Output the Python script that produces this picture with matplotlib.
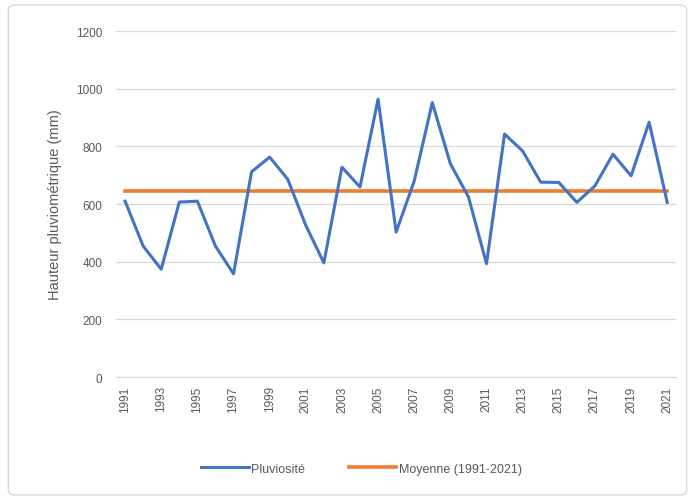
import matplotlib
matplotlib.use('Agg')
import matplotlib.pyplot as plt
from matplotlib.patches import FancyBboxPatch

plt.rcParams['font.family'] = ['Liberation Sans', 'DejaVu Sans']

# Data
years = list(range(1991, 2022))
pluviosite = [610, 454, 374, 607, 610, 454, 358, 712, 763, 686, 526, 396,
              728, 659, 964, 503, 680, 952, 740, 625, 393, 843, 784, 676,
              675, 606, 663, 773, 698, 884, 606]
moyenne = 645

blue = '#4472C4'
orange = '#ED7D31'
grey_txt = '#595959'

fig = plt.figure(figsize=(6.95, 5.02), dpi=100)
ax = fig.add_axes([0.167, 0.247, 0.806, 0.689])

ax.plot(years, pluviosite, color=blue, linewidth=2.2, label='Pluviosité', zorder=3)
ax.plot(years, [moyenne] * len(years), color=orange, linewidth=2.6,
        label='Moyenne (1991-2021)', zorder=2)

ax.set_xlim(1990.5, 2021.5)
ax.set_ylim(0, 1200)
ax.set_yticks(range(0, 1201, 200))
ax.set_xticks(years[::2])
ax.set_xticklabels([str(y) for y in years[::2]], rotation=90, fontsize=8.5, color=grey_txt)
ax.tick_params(axis='y', labelsize=8.5, colors=grey_txt, length=0, pad=10)
ax.tick_params(axis='x', length=0, pad=6)
ax.grid(axis='y', color='#D9D9D9', linewidth=0.9)
ax.set_axisbelow(True)
for s in ['top', 'right', 'left']:
    ax.spines[s].set_visible(False)
ax.spines['bottom'].set_color('#D9D9D9')
ax.set_ylabel('Hauteur pluviométrique (mm)', fontsize=10.5, color=grey_txt, labelpad=10)

fig.legend(loc='lower center', bbox_to_anchor=(0.52, 0.03), ncol=2, frameon=False,
           fontsize=9, labelcolor=grey_txt, handlelength=3.8, handletextpad=0.2,
           columnspacing=3.5)

# chart area border
fig.patches.append(FancyBboxPatch((0.012, 0.012), 0.976, 0.976,
                                  boxstyle='round,pad=0,rounding_size=0.01',
                                  transform=fig.transFigure, fill=False,
                                  edgecolor='#D9D9D9', linewidth=1))

fig.savefig('out.png', dpi=100)
